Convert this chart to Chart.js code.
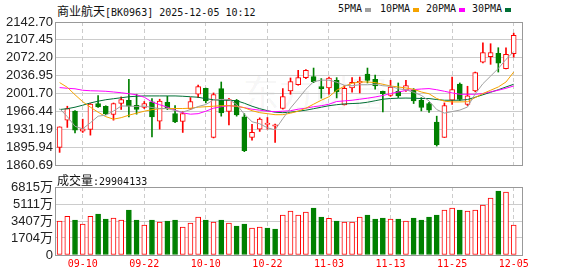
<!DOCTYPE html>
<html>
<head>
<meta charset="utf-8">
<script src="https://cdn.jsdelivr.net/npm/chart.js@4"></script>
<style>
  body { margin: 0; background: #fff; width: 578px; height: 276px; position: relative; overflow: hidden; }
  .abs { position: absolute; white-space: nowrap; }
  .cn { font: 12px/12px "Noto Sans CJK SC", sans-serif; color: #111; }
  .en { font: 10px/12px "DejaVu Sans Mono", monospace; color: #111; }
  .box { position: absolute; width: 6px; height: 4px; top: 8px; }
  #wm { left: 243px; top: 72px; font: 36px/38px "Noto Sans CJK SC", sans-serif; color: rgba(0,0,0,0.055); }
  canvas { position: absolute; left: 0; }
</style>
</head>
<body>
<div id="wm" class="abs">东方财富</div>
<div class="abs" style="left:57px; top:2px;"><span class="cn">商业航天</span><span class="en">[BK0963] 2025-12-05 10:12</span></div>
<div class="abs en" style="left:338px; top:3px;">5PMA</div>
<div class="box" style="left:365px; background:#a0a0a0;"></div>
<div class="abs en" style="left:380px; top:3px;">10PMA</div>
<div class="box" style="left:413px; background:#f5a300;"></div>
<div class="abs en" style="left:426px; top:3px;">20PMA</div>
<div class="box" style="left:459px; background:#ff00ff;"></div>
<div class="abs en" style="left:472px; top:3px;">30PMA</div>
<div class="box" style="left:505px; background:#006f35;"></div>
<canvas id="kline" width="578" height="175" style="top:0"></canvas>
<div class="abs" style="left:57px; top:171px;"><span class="cn">成交量</span><span class="en">:29904133</span></div>
<canvas id="vol" width="578" height="101" style="top:175px"></canvas>
<script>
// 交易日
var dates = ["09-05","09-08","09-09","09-10","09-11","09-12","09-15","09-16","09-17","09-18",
  "09-19","09-22","09-23","09-24","09-25","09-26","09-29","09-30","10-09","10-10",
  "10-13","10-14","10-15","10-16","10-17","10-20","10-21","10-22","10-23","10-24",
  "10-27","10-28","10-29","10-30","10-31","11-03","11-04","11-05","11-06","11-07",
  "11-10","11-11","11-12","11-13","11-14","11-17","11-18","11-19","11-20","11-21",
  "11-24","11-25","11-26","11-27","11-28","12-01","12-02","12-03","12-04","12-05"];

// K线 (开 高 低 收)
var open = [1895.5,1949.1,1966.8,1927.5,1930.9,1981.9,1976.6,1960.3,1981.9,1988.4,
  1978.6,1974.1,1985.1,1947.2,1984.5,1962.3,1946.6,1971.4,2000.2,2012.0,
  1915.1,2011.4,1966.2,1988.4,1955.6,1915.1,1931.4,1940.7,1937.3,1972.1,
  2006.7,2019.3,2033.0,2035.0,2015.3,2012.6,2027.7,1979.2,2012.6,2022.5,
  2040.1,2029.7,2006.1,1997.7,2006.1,2008.1,2008.1,1988.4,1981.9,1945.2,
  1915.1,1988.4,2020.5,1980.0,2006.7,2063.7,2074.3,2080.8,2050.7,2080.2];
var high = [1936.0,1976.6,1968.0,1951.1,1982.0,1997.7,1977.5,1983.0,1995.0,2029.7,
  2000.2,1985.9,1991.8,1990.4,1996.3,1978.0,1966.0,1993.7,2018.5,2012.5,
  2002.8,2024.4,1992.4,1990.0,1962.0,1940.7,1953.6,1954.4,1941.3,2011.4,
  2032.3,2047.4,2048.8,2051.9,2031.1,2034.2,2033.0,2017.3,2033.0,2034.2,
  2051.9,2038.2,2006.5,2027.7,2022.5,2027.7,2011.4,1993.7,1984.5,1957.0,
  1983.1,2034.2,2022.5,2016.0,2044.0,2101.8,2099.9,2092.0,2092.0,2120.7];
var low = [1885.6,1934.8,1924.2,1924.9,1919.6,1974.1,1960.0,1949.1,1970.2,1955.6,
  1960.9,1972.0,1916.3,1931.4,1970.0,1944.0,1924.9,1970.0,1993.7,1983.1,
  1914.0,1957.0,1939.5,1957.0,1887.0,1909.8,1926.9,1931.4,1905.3,1971.0,
  2000.2,2018.0,2031.0,2023.0,1992.4,2000.2,1993.0,1979.0,2004.2,2002.8,
  2022.5,2010.0,1965.5,1996.0,1993.7,2006.0,1981.9,1967.4,1964.3,1898.0,
  1915.0,1980.0,1988.0,1978.0,2005.0,2062.0,2059.2,2044.0,2050.0,2073.5];
var close = [1936.0,1972.1,1929.4,1932.0,1980.6,1975.3,1961.5,1981.9,1989.8,1976.6,
  1970.2,1981.9,1955.6,1986.5,1972.1,1945.8,1962.3,1985.9,2015.3,1987.1,
  1999.6,1963.5,1989.8,1959.5,1888.8,1924.9,1951.1,1943.2,1939.9,1995.7,
  2025.2,2033.0,2047.4,2024.4,2011.4,2032.3,2004.7,2012.0,2023.8,2025.8,
  2027.7,2016.6,2001.6,2014.6,1996.9,2017.3,1987.1,1974.1,1968.8,1900.6,
  1978.0,2009.5,1989.8,1996.9,2042.9,2082.2,2082.2,2061.7,2078.8,2116.2];

// 均线
var ma5 = [1972,1956,1937,1932,1944,1957,1959,1967,1977,1977,
  1976,1977,1974,1972,1972,1968,1965,1970,1976,1980,
  1989,1990,1990,1980,1961,1946,1942,1934,1930,1952,
  1973,1991,2010,2025,2028,2028,2024,2018,2017,2019,
  2019,2020,2017,2016,2011,2009,2004,1998,1987,1970,
  1963,1966,1969,1975,2001,2021,2036,2051,2069,2084];
var ma10 = [2023.2,2013.9,1999.2,1985.5,1974.7,1964.8,1956.0,1951.1,1954.0,1958.9,
  1962.9,1966.8,1969.8,1971.7,1972.1,1972.1,1972.1,1972.7,1974.7,1975.6,
  1976.6,1977.6,1977.6,1976.6,1973.7,1967.8,1963.9,1961.9,1959.9,1959.9,
  1962.9,1966.8,1972.7,1980.6,1988.4,1995.3,2008.1,2016.0,2021.8,2024.4,
  2024.4,2023.2,2019.9,2016.5,2014.6,2012.6,2010.0,2004.7,2001.2,1991.8,
  1986.5,1985.1,1985.1,1985.5,1993.7,2001.6,2008.1,2014.6,2024.4,2044.0];
var ma20 = [2013.4,2012.0,2011.0,2008.1,2007.1,2006.7,2006.1,2004.7,2003.2,2001.2,
  1999.2,1994.3,1985.1,1979.6,1974.7,1968.8,1963.5,1960.9,1961.9,1966.8,
  1972.7,1975.6,1977.6,1976.6,1973.7,1970.7,1968.8,1966.8,1965.8,1966.8,
  1967.8,1970.7,1972.7,1975.6,1977.6,1980.6,1985.9,1987.1,1988.4,1990.4,
  1992.4,1994.9,1997.7,2001.6,2004.7,2007.5,2009.4,2010.6,2011.4,2009.1,
  2006.1,2002.8,2000.2,2000.2,2000.2,2001.6,2005.1,2008.1,2012.0,2016.5];
var ma30 = [1970.1,1971.7,1974.7,1978.6,1983.1,1986.5,1989.4,1991.4,1993.3,1995.3,
  1996.3,1996.9,1996.9,1996.9,1996.9,1996.9,1996.3,1995.3,1994.3,1991.4,
  1989.4,1988.4,1988.4,1987.4,1982.5,1976.6,1971.7,1967.8,1964.8,1963.9,
  1964.8,1966.8,1968.8,1971.7,1974.7,1977.6,1979.6,1981.2,1981.9,1982.5,
  1984.5,1987.4,1990.4,1991.8,1992.4,1992.7,1992.4,1991.8,1991.8,1989.8,
  1988.4,1988.4,1988.4,1989.8,1994.3,1999.2,2004.1,2009.1,2014.6,2019.9];

// 成交量 (万) 及颜色 1=红 0=绿
var volume = [3407,3874,3507,3106,3874,4108,3607,3707,3507,4509,
  3507,3006,3507,3307,3407,3507,2806,3206,3808,3507,
  3307,3507,3206,2906,3106,2705,2806,2705,2605,4008,
  4409,4008,4308,4709,3808,3674,3407,3307,3307,3808,
  4008,3607,3707,3607,3607,3407,3707,3507,3808,4008,
  4509,4709,4509,4409,4509,5010,5711,6413,6313,2990];
var volUp = [1,1,0,1,1,0,0,1,1,0, 0,1,0,1,0,0,1,1,1,0, 1,0,1,0,0,1,1,0,0,1,
  1,1,1,0,0,1,0,1,1,1, 0,0,0,1,0,1,0,0,0,0, 1,1,0,1,1,1,1,0,1,1];

// 刻度
var priceTickLabels = ["1860.69","1895.94","1931.19","1966.44","2001.70","2036.95","2072.20","2107.45","2142.70"];
var volTickLabels = ["0","1704万","3407万","5111万","6815万"];
var volTickValues = [0,1704,3407,5111,6815];
var dateTickLabels = ["09-10","09-22","10-10","10-22","11-03","11-13","11-25","12-05"];

var RED = "#ff0000", GREEN = "#008000";
var priceTicks = priceTickLabels.map(Number);
var tickIdx = dateTickLabels.map(function(d) { return dates.indexOf(d); });

function pts(arr) {
  return arr.map(function(v, i) { return { x: i, y: v }; });
}

// 外框
var frame = {
  id: "frame",
  afterDraw: function(chart) {
    var a = chart.chartArea, c = chart.ctx;
    c.save();
    c.strokeStyle = "#999999";
    c.lineWidth = 1;
    c.strokeRect(a.left + 0.5, a.top + 0.5, a.right - a.left, a.bottom - a.top);
    c.restore();
  }
};

function xAxis(showLabels) {
  return {
    type: "linear",
    min: -0.6,
    max: 60.08,
    offset: false,
    afterBuildTicks: function(s) { s.ticks = tickIdx.map(function(v) { return { value: v }; }); },
    afterFit: function(s) { s.height = showLabels ? 21 : 0; },
    grid: { color: "#cccccc", drawTicks: false, offset: false },
    border: { display: false, dash: [4, 3] },
    ticks: {
      display: showLabels,
      autoSkip: false,
      maxRotation: 0,
      padding: 3,
      color: RED,
      font: { family: "DejaVu Sans Mono", size: 10 },
      callback: function(v) { return dates[v]; }
    }
  };
}

function yAxis(min, max, values, labels) {
  return {
    type: "linear",
    position: "left",
    min: min,
    max: max,
    afterBuildTicks: function(s) { s.ticks = values.map(function(v) { return { value: v }; }); },
    afterFit: function(s) { s.width = 55; },
    grid: { color: "#cccccc", drawTicks: false },
    border: { display: false },
    ticks: {
      autoSkip: false,
      padding: 2,
      color: "#222222",
      font: { family: "Liberation Sans, Noto Sans CJK SC", size: 13 },
      callback: function(v, i) { return labels[i]; }
    }
  };
}

function maLine(arr, color) {
  return {
    type: "line",
    data: pts(arr),
    borderColor: color,
    borderWidth: 1,
    pointRadius: 0,
    tension: 0,
    order: 0
  };
}

var up = close.map(function(c, i) { return c >= open[i]; });

new Chart(document.getElementById("kline").getContext("2d"), {
  data: {
    datasets: [
      maLine(ma5, "#a0a0a0"),
      maLine(ma10, "#f5a300"),
      maLine(ma20, "#ff00ff"),
      maLine(ma30, "#006f35"),
      {
        type: "bar",
        data: open.map(function(o, i) { return { x: i, y: [o, close[i]] }; }),
        backgroundColor: up.map(function(u) { return u ? "#ffffff" : GREEN; }),
        borderColor: up.map(function(u) { return u ? RED : GREEN; }),
        borderWidth: 1,
        borderSkipped: false,
        barThickness: 5,
        grouped: false,
        order: 1
      },
      {
        type: "bar",
        data: low.map(function(l, i) { return { x: i, y: [l, high[i]] }; }),
        backgroundColor: up.map(function(u) { return u ? RED : GREEN; }),
        barThickness: 1,
        grouped: false,
        order: 2
      }
    ]
  },
  options: {
    responsive: false,
    animation: false,
    layout: { padding: { left: 0, right: 56, top: 22, bottom: 10 } },
    plugins: { legend: { display: false }, tooltip: { enabled: false } },
    scales: {
      x: xAxis(false),
      y: yAxis(priceTicks[0], priceTicks[priceTicks.length - 1], priceTicks, priceTickLabels)
    }
  },
  plugins: [frame]
});

new Chart(document.getElementById("vol").getContext("2d"), {
  type: "bar",
  data: {
    datasets: [{
      data: pts(volume),
      backgroundColor: volUp.map(function(u) { return u ? "#ffffff" : GREEN; }),
      borderColor: volUp.map(function(u) { return u ? RED : GREEN; }),
      borderWidth: 1,
      borderSkipped: false,
      barThickness: 5
    }]
  },
  options: {
    responsive: false,
    animation: false,
    layout: { padding: { left: 0, right: 56, top: 12, bottom: 0 } },
    plugins: { legend: { display: false }, tooltip: { enabled: false } },
    scales: {
      x: xAxis(true),
      y: yAxis(0, 6815, volTickValues, volTickLabels)
    }
  },
  plugins: [frame]
});
</script>
</body>
</html>
